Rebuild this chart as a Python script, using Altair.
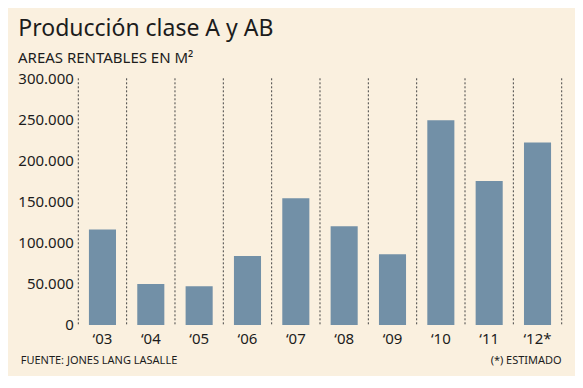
import altair as alt
import pandas as pd

# ---- data ----
years = ["‘03", "‘04", "‘05", "‘06", "‘07", "‘08", "‘09", "‘10", "‘11", "‘12*"]
values = [116000, 50000, 47000, 84000, 154000, 120000, 86000, 249000, 175000, 222000]
y_ticks = [0, 50000, 100000, 150000, 200000, 250000, 300000]

title_text = "Producción clase A y AB"
subtitle_text = "AREAS RENTABLES EN M²"
source_text = "FUENTE: JONES LANG LASALLE"
note_text = "(*) ESTIMADO"

# ---- layout / style ----
W, H = 483.4, 246.7
PAD_INNER, PAD_OUTER = 0.44, 0.22
STEP = W / (len(years) - PAD_INNER + 2 * PAD_OUTER)
OFF = STEP * PAD_OUTER
FONT = "Noto Sans"
BG = "#FAF0DF"
BAR = "#7290A7"
TXT = "#1c1c1c"

df = pd.DataFrame({"year": years, "value": values})

xscale = alt.Scale(domain=years, paddingInner=PAD_INNER, paddingOuter=PAD_OUTER)
yscale = alt.Scale(domain=[0, 300000])

def xaxis():
    return alt.Axis(title=None, domain=False, ticks=False, labelAngle=0,
                    bandPosition=0.5,
                    labelFont=FONT, labelFontSize=15, labelColor=TXT,
                    labelPadding=7)

bars = alt.Chart(df).mark_bar(color=BAR).encode(
    x=alt.X("year:N", sort=years, scale=xscale, axis=xaxis()),
    y=alt.Y("value:Q", scale=yscale,
            axis=alt.Axis(title=None, domain=False, ticks=False, grid=False,
                          values=y_ticks, labelFont=FONT, labelFontSize=15,
                          labelColor=TXT, labelPadding=5,
                          labelExpr="replace(format(datum.value, ','), ',', '.')")),
)

rules_left = alt.Chart(df).mark_rule(
    color="#444444", strokeWidth=1, strokeDash=[2, 2], xOffset=-OFF
).encode(
    x=alt.X("year:N", sort=years, scale=xscale, bandPosition=0, axis=xaxis()),
    y=alt.value(0), y2=alt.value(H),
)

rules_right = alt.Chart(df).transform_filter(
    alt.datum.year == years[-1]
).mark_rule(
    color="#444444", strokeWidth=1, strokeDash=[2, 2], xOffset=OFF
).encode(
    x=alt.X("year:N", sort=years, scale=xscale, bandPosition=1, axis=xaxis()),
    y=alt.value(0), y2=alt.value(H),
)

def label(text, x, y, size, align="left", weight="normal"):
    return alt.Chart(pd.DataFrame({"t": [text]})).mark_text(
        font=FONT, fontSize=size, align=align, baseline="alphabetic",
        color=TXT, fontWeight=weight
    ).encode(text="t:N", x=alt.value(x), y=alt.value(y))

title = label(title_text, -60, -42.3, 23)
subtitle = label(subtitle_text, -60.3, -15, 15)
source = label(source_text, -57.6, 286, 11)
note = label(note_text, W, 286, 11, align="right")

chart = alt.layer(bars, rules_left, rules_right, title, subtitle, source, note).properties(
    width=W, height=H,
    autosize=alt.AutoSizeParams(type="none"),
    padding={"left": 70.3, "top": 70.3, "right": 13, "bottom": 51},
    background=BG,
).configure_view(stroke=None)

chart.save("out.html", embed_options={"renderer": "svg", "actions": False})
